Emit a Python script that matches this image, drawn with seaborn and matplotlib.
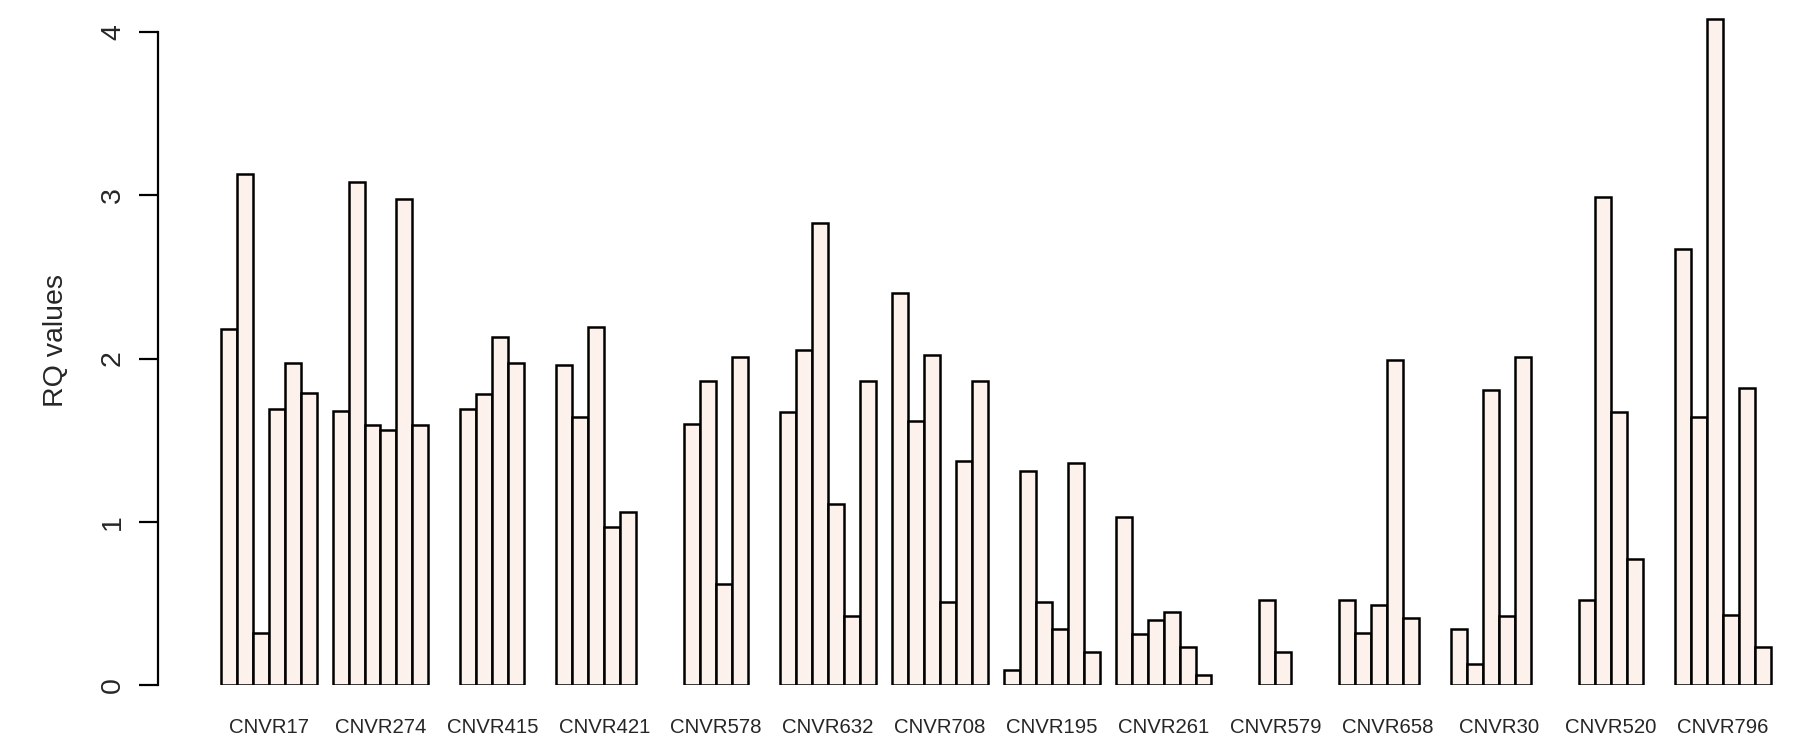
import numpy as np
import pandas as pd
import matplotlib
matplotlib.use("Agg")
import matplotlib.pyplot as plt
import seaborn as sns

# CNV regions (x groups) and the six samples inside each group
regions = ['CNVR17', 'CNVR274', 'CNVR415', 'CNVR421', 'CNVR578', 'CNVR632', 'CNVR708',
           'CNVR195', 'CNVR261', 'CNVR579', 'CNVR658', 'CNVR30', 'CNVR520', 'CNVR796']
samples = ['S1', 'S2', 'S3', 'S4', 'S5', 'S6']

# RQ values, one list per region (nan = no bar)
nan = np.nan
rq_cnvr17 = [2.18, 3.13, 0.32, 1.69, 1.97, 1.79]
rq_cnvr274 = [1.68, 3.08, 1.59, 1.56, 2.98, 1.59]
rq_cnvr415 = [nan, 1.69, 1.78, 2.13, 1.97, nan]
rq_cnvr421 = [1.96, 1.64, 2.19, 0.97, 1.06, nan]
rq_cnvr578 = [nan, 1.60, 1.86, 0.62, 2.01, nan]
rq_cnvr632 = [1.67, 2.05, 2.83, 1.11, 0.42, 1.86]
rq_cnvr708 = [2.40, 1.62, 2.02, 0.51, 1.37, 1.86]
rq_cnvr195 = [0.09, 1.31, 0.51, 0.34, 1.36, 0.20]
rq_cnvr261 = [1.03, 0.31, 0.40, 0.45, 0.23, 0.06]
rq_cnvr579 = [nan, nan, 0.52, 0.20, nan, nan]
rq_cnvr658 = [0.52, 0.32, 0.49, 1.99, 0.41, nan]
rq_cnvr30 = [0.34, 0.13, 1.81, 0.42, 2.01, nan]
rq_cnvr520 = [nan, 0.52, 2.99, 1.67, 0.77, nan]
rq_cnvr796 = [2.67, 1.64, 4.08, 0.43, 1.82, 0.23]

all_rq = [rq_cnvr17, rq_cnvr274, rq_cnvr415, rq_cnvr421, rq_cnvr578, rq_cnvr632, rq_cnvr708,
          rq_cnvr195, rq_cnvr261, rq_cnvr579, rq_cnvr658, rq_cnvr30, rq_cnvr520, rq_cnvr796]

rows = []
for reg, vals in zip(regions, all_rq):
    for s, v in zip(samples, vals):
        rows.append({'Region': reg, 'Sample': s, 'RQ': v})
df = pd.DataFrame(rows)

sns.set_style("white")
plt.rcParams['font.family'] = ['Liberation Sans', 'DejaVu Sans']

W, H = 1800, 742
fig = plt.figure(figsize=(18, 7.42), dpi=100)
# axes placed in pixel terms: y axis line at x=158, baseline at y=685
ax = fig.add_axes([158 / W, (H - 685) / H, (1790 - 158) / W, 4.15 * 163.25 / H])

fill = '#FCF1EB'
sns.barplot(data=df, x='Region', y='RQ', hue='Sample', order=regions, hue_order=samples,
            palette=[fill] * 6, saturation=1, edgecolor='black', linewidth=1.8,
            width=6 / 7, gap=0, dodge=True, errorbar=None, legend=False, ax=ax)

ax.set_xlim(-0.989, 13.60)
ax.set_ylim(0, 4.15)

for side in ['top', 'right', 'bottom']:
    ax.spines[side].set_visible(False)
ax.spines['left'].set_bounds(0, 4)
ax.spines['left'].set_linewidth(1.6)
ax.spines['left'].set_color('black')

ax.set_yticks([0, 1, 2, 3, 4])
ax.set_yticklabels(['0', '1', '2', '3', '4'], rotation=90, va='center', fontsize=20.5)
ax.tick_params(axis='y', direction='out', length=13.7, width=1.6, color='black', pad=9.4,
               left=True)
ax.tick_params(axis='x', length=0, pad=24, labelsize=14.7)

ax.set_xlabel('')
ax.set_ylabel('RQ values', fontsize=20.5)
ax.yaxis.label.set_va('center')
ax.yaxis.set_label_coords(-0.0625, 0.508)

fig.savefig('out.png', dpi=100, facecolor='white')
plt.close(fig)
